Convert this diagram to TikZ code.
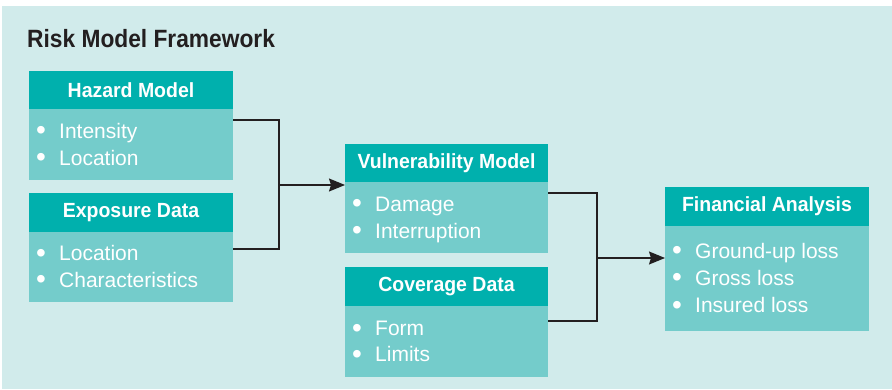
\documentclass[tikz,border=0pt]{standalone}
\usepackage{fontspec}
\setmainfont{Liberation Sans}
\usetikzlibrary{arrows.meta}
\definecolor{bgc}{HTML}{D1EBEB}
\definecolor{hdc}{HTML}{00B0AD}
\definecolor{bdc}{HTML}{74CCCB}
\definecolor{ink}{HTML}{231F20}
\begin{document}
\begin{tikzpicture}[x=1pt,y=-1pt,
 hdr/.style={fill=hdc, text=white, font=\fontsize{20.5}{22}\selectfont\bfseries\addfontfeature{FakeStretch=0.95}, minimum width=204pt, minimum height=38pt, anchor=north west, inner sep=0pt, outer sep=0pt},
 bodybox/.style={fill=bdc, minimum width=204pt, anchor=north west, inner sep=0pt, outer sep=0pt},
 item/.style={text=white, font=\fontsize{21}{22}\selectfont, anchor=base west, inner sep=0pt},
 dot/.style={text=white, font=\fontsize{28}{28}\selectfont, anchor=base west, inner sep=0pt, yshift=-2pt},
 conn/.style={draw=ink, line width=1.2pt},
 arr/.style={conn, -{Stealth[length=16pt,width=13pt,inset=2pt]}}
]
\useasboundingbox[fill=white] (0,0) rectangle (892,390);
\fill[bgc] (2,6) rectangle (892,389);

\node[anchor=base west, font=\fontsize{25}{28}\selectfont\bfseries\addfontfeature{FakeStretch=0.91}, text=ink, inner sep=0pt] (title) at (27,48) {Risk Model Framework};

% Hazard Model
\node[hdr] (hz) at (29,71) {Hazard Model};
\node[bodybox, minimum height=71pt] (hzb) at (29,109) {};
\node[dot] (hzd1) at (36,138) {•};
\node[item] (hzt1) at (59,138.5) {Intensity};
\node[dot] (hzd2) at (36,165) {•};
\node[item] (hzt2) at (59,165.5) {Location};

% Exposure Data
\node[hdr, minimum height=39pt] (ex) at (29,193) {Exposure Data};
\node[bodybox, minimum height=70pt] (exb) at (29,232) {};
\node[dot] (exd1) at (36,260) {•};
\node[item] (ext1) at (59,260.5) {Location};
\node[dot] (exd2) at (36,287) {•};
\node[item] (ext2) at (59,287.5) {Characteristics};

% Vulnerability Model
\node[hdr, minimum width=203pt] (vm) at (345,144) {Vulnerability Model};
\node[bodybox, minimum width=203pt, minimum height=71pt] (vmb) at (345,182) {};
\node[dot] (vmd1) at (352,211) {•};
\node[item] (vmt1) at (375,211.5) {Damage};
\node[dot] (vmd2) at (352,238) {•};
\node[item] (vmt2) at (375,238.5) {Interruption};

% Coverage Data
\node[hdr, minimum width=203pt, minimum height=39pt] (cv) at (345,267) {Coverage Data};
\node[bodybox, minimum width=203pt, minimum height=71pt] (cvb) at (345,306) {};
\node[dot] (cvd1) at (352,335) {•};
\node[item] (cvt1) at (375,335.5) {Form};
\node[dot] (cvd2) at (352,361) {•};
\node[item] (cvt2) at (375,361.5) {Limits};

% Financial Analysis
\node[hdr, minimum height=39pt] (fa) at (665,187) {Financial Analysis};
\node[bodybox, minimum height=105pt] (fab) at (665,226) {};
\node[dot] (fad1) at (672,258) {•};
\node[item] (fat1) at (695,258.5) {Ground-up loss};
\node[dot] (fad2) at (672,285) {•};
\node[item] (fat2) at (695,285.5) {Gross loss};
\node[dot] (fad3) at (672,312) {•};
\node[item] (fat3) at (695,312.5) {Insured loss};

% connectors
\coordinate (j1) at (279,185);
\coordinate (j2) at (597,258);
\draw[conn] ([yshift=-11pt]hzb.north east) -| (j1);
\draw[conn] ([yshift=-17pt]exb.north east) -| (j1);
\draw[arr] (j1) -- (vmb.west |- j1);
\draw[conn] ([yshift=-11pt]vmb.north east) -| (j2);
\draw[conn] ([yshift=-15pt]cvb.north east) -| (j2);
\draw[arr] (j2) -- (fab.west |- j2);
\end{tikzpicture}
\end{document}
